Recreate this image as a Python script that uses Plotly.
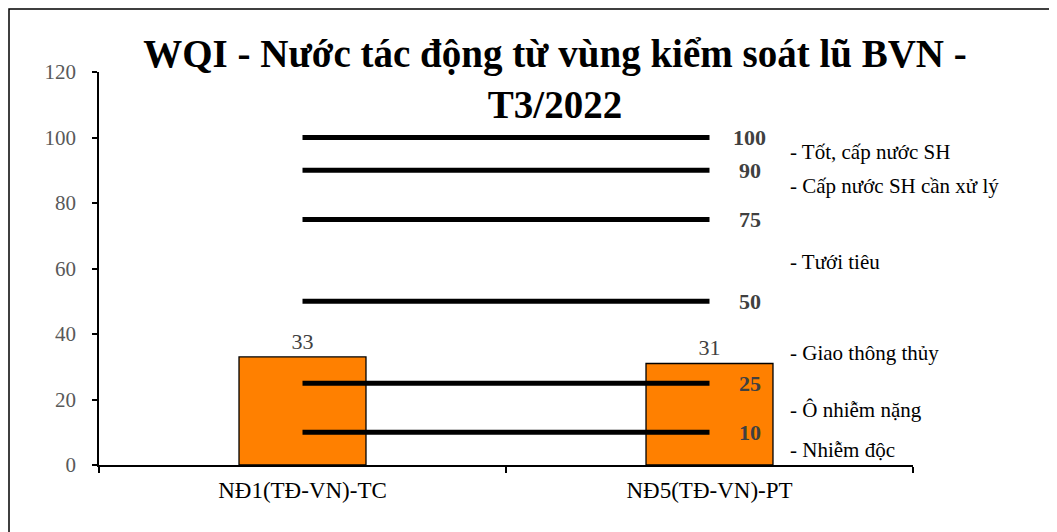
import plotly.graph_objects as go

categories = ["NĐ1(TĐ-VN)-TC", "NĐ5(TĐ-VN)-PT"]
wqi_values = [33, 31]
threshold_values = [100, 90, 75, 50, 25, 10]
zone_labels = ["- Tốt, cấp nước SH", "- Cấp nước SH cần xử lý", "- Tưới tiêu",
               "- Giao thông thủy", "- Ô nhiễm nặng", "- Nhiễm độc"]
zone_label_y = [95.6, 85.2, 62, 34.2, 16.8, 4.6]
title_text = "WQI - Nước tác động từ vùng kiểm soát lũ BVN -<br>T3/2022"

FONT = "Liberation Serif, Times New Roman, serif"

fig = go.Figure()
fig.add_trace(go.Bar(
    x=categories, y=wqi_values, width=0.312,
    marker=dict(color="#FF8000", line=dict(color="#000000", width=1.3)),
    text=[str(v) for v in wqi_values], textposition="outside",
    textfont=dict(family=FONT, size=22, color="#404040"),
    cliponaxis=False, showlegend=False,
))
for v in threshold_values:
    fig.add_trace(go.Scatter(
        x=categories, y=[v, v], mode="lines",
        line=dict(color="#000000", width=5),
        showlegend=False, hoverinfo="skip",
    ))

annotations = []
for v in threshold_values:
    annotations.append(dict(
        x=categories[1], y=v, xref="x", yref="y", xshift=40,
        text="<b>%d</b>" % v, showarrow=False, xanchor="center", yanchor="middle",
        font=dict(family=FONT, size=22, color="#404040"),
    ))
for t, yv in zip(zone_labels, zone_label_y):
    annotations.append(dict(
        x=categories[1], y=yv, xref="x", yref="y", xshift=78,
        text=t, showarrow=False, xanchor="left", yanchor="middle",
        font=dict(family=FONT, size=21, color="#000000"),
    ))

fig.update_layout(
    width=1057, height=532,
    margin=dict(l=91, r=152, t=64, b=75, autoexpand=False),
    paper_bgcolor="#FFFFFF", plot_bgcolor="#FFFFFF",
    title=dict(text="<b>" + title_text + "</b>", x=547 / 1057, xanchor="center",
               y=1 - 59 / 532, yanchor="top", yref="container",
               font=dict(family=FONT, size=39, color="#000000")),
    xaxis=dict(range=[-0.5, 1.5], autorange=False, showgrid=False, showline=True,
               linecolor="#000000", linewidth=1.5,
               ticks="outside", tickson="boundaries", ticklen=6, tickcolor="#000000",
               tickwidth=1.5, ticklabelstandoff=4,
               tickfont=dict(family=FONT, size=23, color="#000000")),
    yaxis=dict(range=[0, 120], dtick=20, showgrid=False, showline=True,
               linecolor="#000000", linewidth=1.5, ticks="outside", ticklen=5,
               tickcolor="#000000", tickwidth=1.5, ticklabelstandoff=12,
               zeroline=False,
               tickfont=dict(family=FONT, size=21, color="#595959")),
    annotations=annotations,
    shapes=[dict(type="rect", xref="paper", yref="paper",
                 x0=(1 - 91) / 814, x1=1.3, y0=-0.4, y1=(457 - 1) / 393,
                 line=dict(color="#000000", width=1.5), layer="below")],
)

fig.write_html("out.html")
